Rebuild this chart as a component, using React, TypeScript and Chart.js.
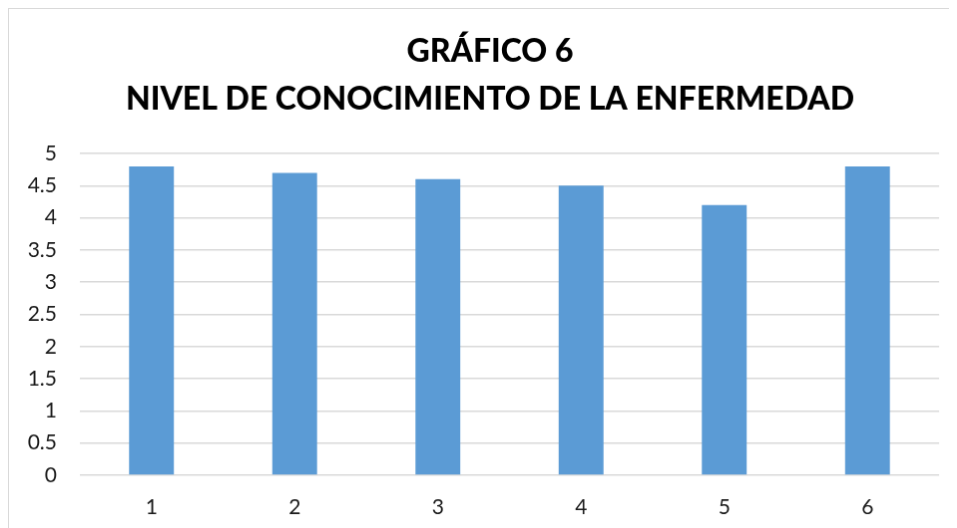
import React, { useEffect, useRef } from "react";
import { Chart, registerables } from "chart.js";

Chart.register(...registerables);

const categories = ["1", "2", "3", "4", "5", "6"];
const values = [4.8, 4.7, 4.6, 4.5, 4.2, 4.8];
const titleLines = ["GRÁFICO 6", "NIVEL DE CONOCIMIENTO DE LA ENFERMEDAD"];
const yMin = 0;
const yMax = 5;
const yStep = 0.5;

export default function App() {
  const ref = useRef<HTMLCanvasElement | null>(null);
  useEffect(() => {
    if (!ref.current) return;
    const chart = new Chart(ref.current, {
      type: "bar",
      data: {
        labels: categories,
        datasets: [
          {
            data: values,
            backgroundColor: "#5B9BD5",
            borderWidth: 0,
            categoryPercentage: 1,
            barPercentage: 0.313,
          },
        ],
      },
      options: {
        animation: false,
        responsive: false,
        maintainAspectRatio: false,
        layout: { padding: 0 },
        plugins: {
          legend: { display: false },
          tooltip: { enabled: false },
          title: {
            display: true,
            text: titleLines,
            color: "#000000",
            font: { family: "Lato", size: 32, weight: "900", lineHeight: 1.5 },
            padding: { top: 19, bottom: 30 },
          },
        },
        scales: {
          x: {
            grid: { display: false, drawTicks: false },
            border: { display: false },
            ticks: {
              color: "#1a1a1a",
              font: { family: "Lato", size: 21 },
              padding: 20,
            },
            afterFit: (s: any) => {
              s.height = 62;
            },
          },
          y: {
            min: yMin,
            max: yMax,
            grid: { color: "#d9d9d9", lineWidth: 1.5, drawTicks: false },
            border: { display: false },
            ticks: {
              stepSize: yStep,
              color: "#1a1a1a",
              font: { family: "Lato", size: 21 },
              padding: 23,
              callback: (v: any) => String(Number(v)),
            },
            afterFit: (s: any) => {
              s.width = 71;
            },
          },
          yRight: {
            position: "right",
            min: yMin,
            max: yMax,
            grid: { display: false, drawTicks: false },
            border: { display: false },
            ticks: { display: false },
            afterFit: (s: any) => {
              s.width = 32;
            },
          },
        },
      },
    });
    return () => chart.destroy();
  }, []);
  return (
    <canvas
      ref={ref}
      width={964}
      height={530}
      style={{ display: "block", border: "1px solid #d9d9d9" }}
    />
  );
}
